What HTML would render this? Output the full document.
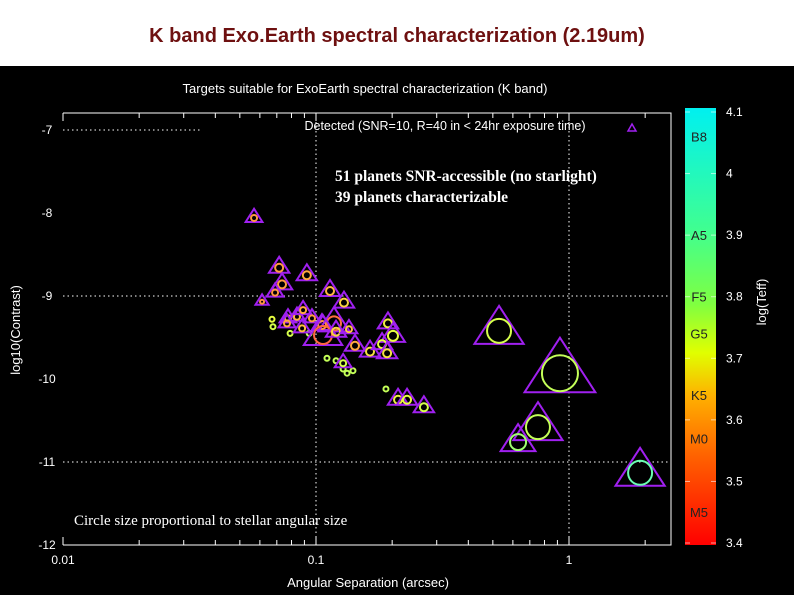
<!DOCTYPE html>
<html><head><meta charset="utf-8"><style>
html,body{margin:0;padding:0;background:#fff;}
svg{display:block;font-family:"Liberation Sans",sans-serif;}
</style></head><body>
<svg id="chart" width="794" height="595" xmlns="http://www.w3.org/2000/svg">
<rect x="0" y="0" width="794" height="66" fill="#fff"/>
<text x="397" y="42" text-anchor="middle" font-size="20" font-weight="bold" fill="#6e1010">K band Exo.Earth spectral characterization (2.19um)</text>
<rect x="0" y="66" width="794" height="529" fill="#000"/>
<text x="365" y="93" text-anchor="middle" font-size="13" fill="#fff">Targets suitable for ExoEarth spectral characterization (K band)</text>
<g id="grid"></g>
<g id="axes"></g>
<text x="445" y="130" text-anchor="middle" font-size="12.5" fill="#fff">Detected (SNR=10, R=40 in &lt; 24hr exposure time)</text>
<polygon points="632,124 628,131 636,131" fill="none" stroke="#a020f0" stroke-width="1.5"/>
<text x="335" y="181" font-family="Liberation Serif,serif" font-weight="bold" font-size="15.5" fill="#fff">51  planets SNR-accessible (no starlight)</text>
<text x="335" y="202" font-family="Liberation Serif,serif" font-weight="bold" font-size="15.5" fill="#fff">39 planets characterizable</text>
<text x="74" y="525" font-family="Liberation Serif,serif" font-size="15" fill="#fff">Circle size proportional to stellar angular size</text>
<g id="marks"></g>
<defs><linearGradient id="cg" x1="0" y1="0" x2="0" y2="1">
<stop offset="0" stop-color="#00f0f0"/><stop offset="0.28" stop-color="#40ff90"/><stop offset="0.45" stop-color="#80ff40"/><stop offset="0.56" stop-color="#e0ff00"/><stop offset="0.66" stop-color="#ffb000"/><stop offset="0.8" stop-color="#ff6000"/><stop offset="1" stop-color="#ff0000"/></linearGradient></defs>
<rect x="685" y="108" width="31" height="437" fill="url(#cg)"/>
<g id="cbar"></g>
<text x="20" y="330" transform="rotate(-90 20 330)" text-anchor="middle" font-size="13" fill="#fff">log10(Contrast)</text>
<text x="368" y="587" text-anchor="middle" font-size="13" fill="#fff">Angular Separation (arcsec)</text>
<text x="766" y="302" transform="rotate(-90 766 302)" text-anchor="middle" font-size="13" fill="#fff">log(Teff)</text>
</svg>
<script>
const sep=[0.0569,0.0715,0.092,0.0734,0.0689,0.0612,0.1136,0.129,0.0775,0.0841,0.0889,0.0964,0.0768,0.0881,0.1056,0.1178,0.1066,0.120,0.135,0.1925,0.2015,0.1426,0.1635,0.1824,0.191,0.128,0.211,0.229,0.267,0.529,0.921,0.754,0.629,1.91];
const logC=[-8.06,-8.66,-8.75,-8.86,-8.96,-9.07,-8.94,-9.08,-9.27,-9.25,-9.17,-9.27,-9.33,-9.39,-9.35,-9.33,-9.47,-9.43,-9.40,-9.33,-9.48,-9.60,-9.67,-9.58,-9.69,-9.81,-10.25,-10.25,-10.34,-9.42,-9.93,-10.58,-10.76,-11.13];
const starSize=[3,4,4,4,3,2,4,4,3,3,3,3,3,3,4,7,9,4,3,4,5,4,4,4,4,3,4,4,4,12,18,12,8,12];
const teff=[3.58,3.58,3.6,3.58,3.57,3.57,3.62,3.66,3.6,3.62,3.6,3.58,3.6,3.63,3.57,3.5,3.48,3.66,3.64,3.7,3.72,3.6,3.68,3.72,3.68,3.74,3.7,3.72,3.74,3.74,3.76,3.76,3.8,3.92];
const gSep=[0.067,0.0676,0.079,0.094,0.1105,0.12,0.128,0.1327,0.140,0.189];
const gLogC=[-9.28,-9.37,-9.45,-9.45,-9.75,-9.78,-9.88,-9.93,-9.90,-10.12];
const gTeff=[3.72,3.74,3.74,3.76,3.76,3.76,3.76,3.76,3.76,3.76];
const xTicks=[0.01,0.1,1];
const xTickLabels=["0.01","0.1","1"];
const yTicks=[-7,-8,-9,-10,-11,-12];
const cTicks=[4.1,4,3.9,3.8,3.7,3.6,3.5,3.4];
const specTypes=["B8","A5","F5","G5","K5","M0","M5"];
const specTeff=[4.06,3.9,3.8,3.74,3.64,3.57,3.45];

const NS="http://www.w3.org/2000/svg";
const X=v=>63+(Math.log10(v)+2)*253;
const Y=v=>130+(-7-v)*83;
const C=t=>112+(4.1-t)*(543-112)/0.7;
function col(t){
  const stops=[[4.1,[0,240,240]],[3.9,[64,255,144]],[3.8,[128,255,64]],[3.72,[224,255,0]],[3.64,[255,176,0]],[3.55,[255,96,0]],[3.4,[255,0,0]]];
  for(let i=0;i<stops.length-1;i++){const a=stops[i],b=stops[i+1];
    if(t<=a[0]&&t>=b[0]){const f=(a[0]-t)/(a[0]-b[0]);const c=a[1].map((v,k)=>Math.round(v+(b[1][k]-v)*f));
      const m=c.map(v=>Math.round(v*0.75+255*0.25));return `rgb(${m[0]},${m[1]},${m[2]})`;}}
  return t>4.1?'rgb(64,240,240)':'rgb(255,64,64)';
}
function el(tag,attrs,parent){const e=document.createElementNS(NS,tag);for(const k in attrs)e.setAttribute(k,attrs[k]);parent.appendChild(e);return e;}
const grid=document.getElementById('grid'),axes=document.getElementById('axes'),marks=document.getElementById('marks'),cbar=document.getElementById('cbar');
[0.1,1].forEach(v=>{const l=el('line',{x1:X(v),x2:X(v),y1:113,y2:545,stroke:'#fff','stroke-width':1,'stroke-dasharray':'1.5,3'},grid);

});
[[-7,63,200],[-9,63,671],[-11,63,671]].forEach(g=>{const l=el('line',{x1:g[1],x2:g[2],y1:Y(g[0]),y2:Y(g[0]),stroke:'#fff','stroke-width':1,'stroke-dasharray':'1.5,3'},grid);

});
const fr=el('path',{d:'M63,113 H671 V545 H63',fill:'none',stroke:'#fff','stroke-width':1},axes);


for(let d=-2;d<=0;d++)for(let m=1;m<10;m++){const v=m*Math.pow(10,d);const x=X(v);if(x>671)break;const len=m===1?8:5;
 el('line',{x1:x,x2:x,y1:545,y2:545-len,stroke:'#fff'},axes);el('line',{x1:x,x2:x,y1:113,y2:113+len,stroke:'#fff'},axes);}
xTicks.forEach((v,i)=>{const t=el('text',{x:X(v),y:564,'text-anchor':'middle','font-size':12,fill:'#fff'},axes);t.textContent=xTickLabels[i];

});
yTicks.forEach(v=>{const t=el('text',{x:47,y:Y(v)+4,'text-anchor':'middle','font-size':12,fill:'#fff'},axes);t.textContent=String(v);

});
function tri(cx,cy,r,name){const hw=1.8*r+3,ap=cy-1.75*r-4,bs=cy+r+1;
 const p=el('polygon',{points:`${cx},${ap} ${cx-hw},${bs} ${cx+hw},${bs}`,fill:'none',stroke:'#a020f0','stroke-width':2},marks);
 
 }
function circ(cx,cy,r,t,name){const c=el('circle',{cx:cx,cy:cy,r:r,fill:'none',stroke:col(t),'stroke-width':2},marks);
 
 }
gSep.forEach((s,i)=>circ(X(s),Y(gLogC[i]),2.5,gTeff[i],'undetected-planet'));
sep.forEach((s,i)=>{const cx=X(s),cy=Y(logC[i]),r=starSize[i];tri(cx,cy,r,'detected-triangle');circ(cx,cy,r,teff[i],'planet-star-circle');});
cTicks.forEach(v=>{const y=C(v);const t=el('text',{x:726,y:y+4,'font-size':12,fill:'#fff'},cbar);t.textContent=String(v);


el('line',{x1:685,x2:690,y1:y,y2:y,stroke:'#fff','stroke-opacity':0.6},cbar);el('line',{x1:711,x2:716,y1:y,y2:y,stroke:'#fff','stroke-opacity':0.6},cbar);});
specTypes.forEach((s,i)=>{const t=el('text',{x:699,y:C(specTeff[i])+5,'text-anchor':'middle','font-size':13,fill:'#222'},cbar);t.textContent=s;

});
</script>
</body></html>
